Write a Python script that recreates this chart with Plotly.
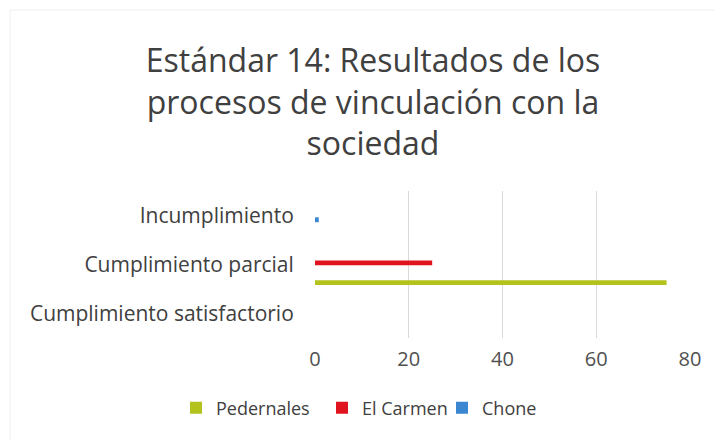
import plotly.graph_objects as go

categories = ["Cumplimiento satisfactorio", "Cumplimiento parcial", "Incumplimiento"]
series_names = ["Pedernales", "El Carmen", "Chone"]
pedernales = [0, 75, 0]
el_carmen = [0, 25, 0]
chone = [0, 0, 0.8]
x_ticks = [0, 20, 40, 60, 80]

colors = ["#b3c21c", "#e0141e", "#3a86d0"]
offsets = [-0.42, -0.017, -0.137]
legend_ids = ["legend", "legend2", "legend3"]
legend_x = [168, 314, 434]

fig = go.Figure()
for name, vals, col, off, lg in zip(series_names, [pedernales, el_carmen, chone], colors, offsets, legend_ids):
    fig.add_trace(go.Bar(
        y=categories, x=vals, name=name, orientation="h",
        marker=dict(color=col, line=dict(width=0)),
        width=0.1, offset=off, legend=lg,
    ))

L, R, T, B = 307, 40, 183, 110
W = 722 - L - R
H = 440 - T - B
FONT = "'Open Sans', 'Noto Sans', sans-serif"

def legend_at(px):
    return dict(
        orientation="h", xref="container", yref="container",
        x=px / 722, xanchor="left", y=1 - (408 - 8) / 440, yanchor="middle",
        font=dict(size=18, color="#404040"), itemwidth=30,
        bgcolor="rgba(0,0,0,0)",
    )

fig.update_layout(
    width=722, height=440,
    margin=dict(l=L, r=R, t=T, b=B, autoexpand=False),
    paper_bgcolor="white", plot_bgcolor="white",
    barmode="overlay",
    font=dict(family=FONT, color="#404040"),
    title=dict(
        text="Estándar 14: Resultados de los<br>procesos de vinculación con la<br>sociedad",
        x=(373 - 8) / 722, xanchor="center", xref="container",
        y=1 - 64 / 440, yanchor="top", yref="container",
        font=dict(size=32, color="#404040", family=FONT),
    ),
    xaxis=dict(
        range=[0, 80], tickvals=x_ticks, showgrid=True, gridcolor="#d9d9d9",
        zeroline=False, showline=False, ticks="outside", ticklen=3,
        tickcolor="rgba(0,0,0,0)", tickfont=dict(size=20, color="#505050"),
        fixedrange=True, automargin=False,
    ),
    yaxis=dict(
        type="category", categoryorder="array", categoryarray=categories,
        showgrid=False, zeroline=False, showline=False,
        ticks="outside", ticklen=16, tickcolor="rgba(0,0,0,0)",
        tickfont=dict(size=21, color="#404040"),
        range=[-0.5, 2.5], automargin=False,
    ),
    showlegend=True,
    legend=legend_at(legend_x[0]),
    legend2=legend_at(legend_x[1]),
    legend3=legend_at(legend_x[2]),
    shapes=[dict(
        type="rect", xref="paper", yref="paper",
        x0=(2 - L) / W, x1=2,
        y0=-2, y1=(440 - B - 2) / H,
        line=dict(color="#eeeeee", width=1), layer="below",
    )],
)

fig.write_html("out.html")
